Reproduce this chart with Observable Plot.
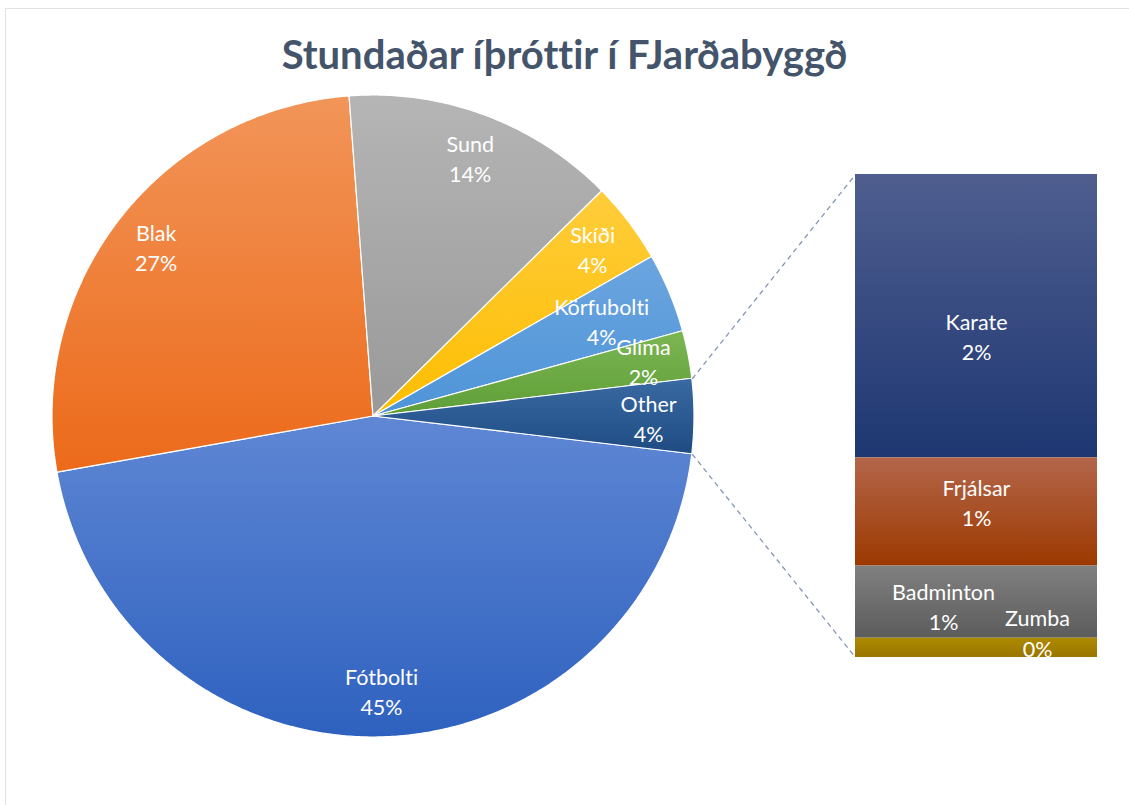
<!DOCTYPE html>
<html><head><meta charset="utf-8">
<script src="https://cdn.jsdelivr.net/npm/d3@7"></script>
<script src="https://cdn.jsdelivr.net/npm/@observablehq/plot@0.6"></script>
<style>
body{margin:0;background:#fff;}
#wrap{position:relative;width:1129px;height:805px;overflow:hidden;font-family:Lato,"Open Sans",sans-serif;font-variant-ligatures:none;}
#frame{position:absolute;left:5px;top:8px;width:1200px;height:900px;border:1.5px solid #dfe3e9;box-sizing:border-box;}
#title{position:relative;height:90px;box-sizing:border-box;padding-top:31px;line-height:46px;text-align:center;font-weight:bold;font-size:40px;color:#44546a;}
#chart{position:relative;}
#chart svg{display:block;}
#chart text{font-variant-ligatures:none;}
</style></head>
<body>
<div id="wrap"><div id="frame"></div><div id="title">Stundaðar íþróttir í FJarðabyggð</div><div id="chart"></div></div>
<script>
// ---- data ----
const categories = ["Fótbolti", "Blak", "Sund", "Skíði", "Körfubolti", "Glíma"];
const values = [45.3, 26.6, 13.8, 4.1, 4.0, 2.4];
const otherCategories = ["Karate", "Frjálsar", "Badminton", "Zumba"];
const otherValues = [2.2, 0.84, 0.56, 0.15];
const otherLabel = "Other";

// ---- styles ----
const pieTop = ["#5f87d4", "#f29559", "#b5b5b5", "#ffcd3c", "#6ba5df", "#7cb653", "#3a6aa3"];
const pieBottom = ["#2e61bf", "#ec6a1a", "#999999", "#fdbd00", "#4e94d8", "#5e9e37", "#1e4b82"];
const barTop = ["#4f5e8f", "#b4664b", "#808080", "#ad8a00"];
const barBottom = ["#1e3772", "#9c3900", "#5c5c5c", "#9a7500"];

// ---- layout ----
const W = 1129, H = 715;
const cx = 373, cy = 326, R = 321;
const labelRFactor = 0.857;
const labelRAdjust = {"Körfubolti": 0.77};
const labelDy = {"Glíma": -2, "Other": 2};
const barX1 = 855, barX2 = 1097, barY1 = 84, barY2 = 567;
const barNudge = {"Karate": [0, 19], "Frjálsar": [0, -11], "Badminton": [-33, 3], "Zumba": [61, -16]};

const otherTotal = d3.sum(otherValues);
const pieNames = [...categories, otherLabel];
const pieValues = [...values, otherTotal];
const total = d3.sum(pieValues);
const otherAngle = otherTotal / total * 2 * Math.PI;
let a = otherAngle / 2; // start of first slice so "Other" is centered on the right
const slices = pieNames.map((name, i) => {
  const a0 = a, a1 = a + pieValues[i] / total * 2 * Math.PI;
  a = a1;
  return {name, value: pieValues[i], a0, a1, i};
});

const piePts = [];
for (const s of slices) {
  const n = Math.max(4, Math.ceil((s.a1 - s.a0) / (Math.PI / 360)));
  for (let k = 0; k <= n; k++) {
    const t = s.a0 + (s.a1 - s.a0) * k / n;
    piePts.push({name: s.name, x: cx + R * Math.cos(t), y: cy + R * Math.sin(t), cx, cy, fill: `url(#pg${s.i})`});
  }
}
const pieLabels = slices.map(s => {
  const m = (s.a0 + s.a1) / 2;
  const r = R * (labelRAdjust[s.name] ?? labelRFactor);
  return {x: cx + r * Math.cos(m), y: cy + r * Math.sin(m) - 1.5 + (labelDy[s.name] || 0),
          text: `${s.name}\n${Math.round(s.value / total * 100)}%`};
});

const barScale = d3.scaleLinear().domain([0, otherTotal]).range([barY1, barY2]);
let acc = 0;
const barSegs = otherCategories.map((name, i) => {
  const y1 = barScale(acc); acc += otherValues[i]; const y2 = barScale(acc);
  const nd = barNudge[name] || [0, 0];
  return {name, y1, y2, fill: `url(#bg${i})`, lx: (barX1 + barX2) / 2 + nd[0], ly: (y1 + y2) / 2 + nd[1],
          text: `${name}\n${Math.round(otherValues[i] / total * 100)}%`};
});

const oth = slices[slices.length - 1];
const connectors = [
  {x1: cx + R * Math.cos(oth.a0), y1: cy + R * Math.sin(oth.a0), x2: barX1, y2: barY1},
  {x1: cx + R * Math.cos(oth.a1), y1: cy + R * Math.sin(oth.a1), x2: barX1, y2: barY2}
];

const chart = Plot.plot({
  width: W, height: H, margin: 0,
  x: {domain: [0, W], range: [0, W], axis: null},
  y: {domain: [0, H], range: [0, H], axis: null},
  color: {type: "identity"},
  marks: [
    Plot.area(piePts, {x1: "cx", y1: "cy", x2: "x", y2: "y", z: "name", fill: "fill", stroke: "white", strokeWidth: 1.2, curve: "linear"}),
    Plot.link(connectors, {x1: "x1", y1: "y1", x2: "x2", y2: "y2", stroke: "#8497b0", strokeWidth: 1.3, strokeDasharray: "5,4"}),
    Plot.rect(barSegs, {x1: () => barX1, x2: () => barX2, y1: "y1", y2: "y2", fill: "fill"}),
    Plot.text(pieLabels, {x: "x", y: "y", text: "text", fill: "white", fontSize: 21.5, lineHeight: 1.4, fontFamily: "Lato"}),
    Plot.text(barSegs, {x: "lx", y: "ly", text: "text", fill: "white", fontSize: 21.5, lineHeight: 1.4, fontFamily: "Lato"})
  ]
});

// gradients
const ns = "http://www.w3.org/2000/svg";
const defs = document.createElementNS(ns, "defs");
function grad(id, c0, c1) {
  const g = document.createElementNS(ns, "linearGradient");
  g.setAttribute("id", id); g.setAttribute("x1", "0"); g.setAttribute("y1", "0"); g.setAttribute("x2", "0"); g.setAttribute("y2", "1");
  [[0, c0], [1, c1]].forEach(([o, c]) => {
    const s = document.createElementNS(ns, "stop");
    s.setAttribute("offset", o); s.setAttribute("stop-color", c); g.appendChild(s);
  });
  defs.appendChild(g);
}
pieTop.forEach((c, i) => grad(`pg${i}`, c, pieBottom[i]));
barTop.forEach((c, i) => grad(`bg${i}`, c, barBottom[i]));
chart.insertBefore(defs, chart.firstChild);
document.getElementById("chart").appendChild(chart);
</script>
</body></html>
